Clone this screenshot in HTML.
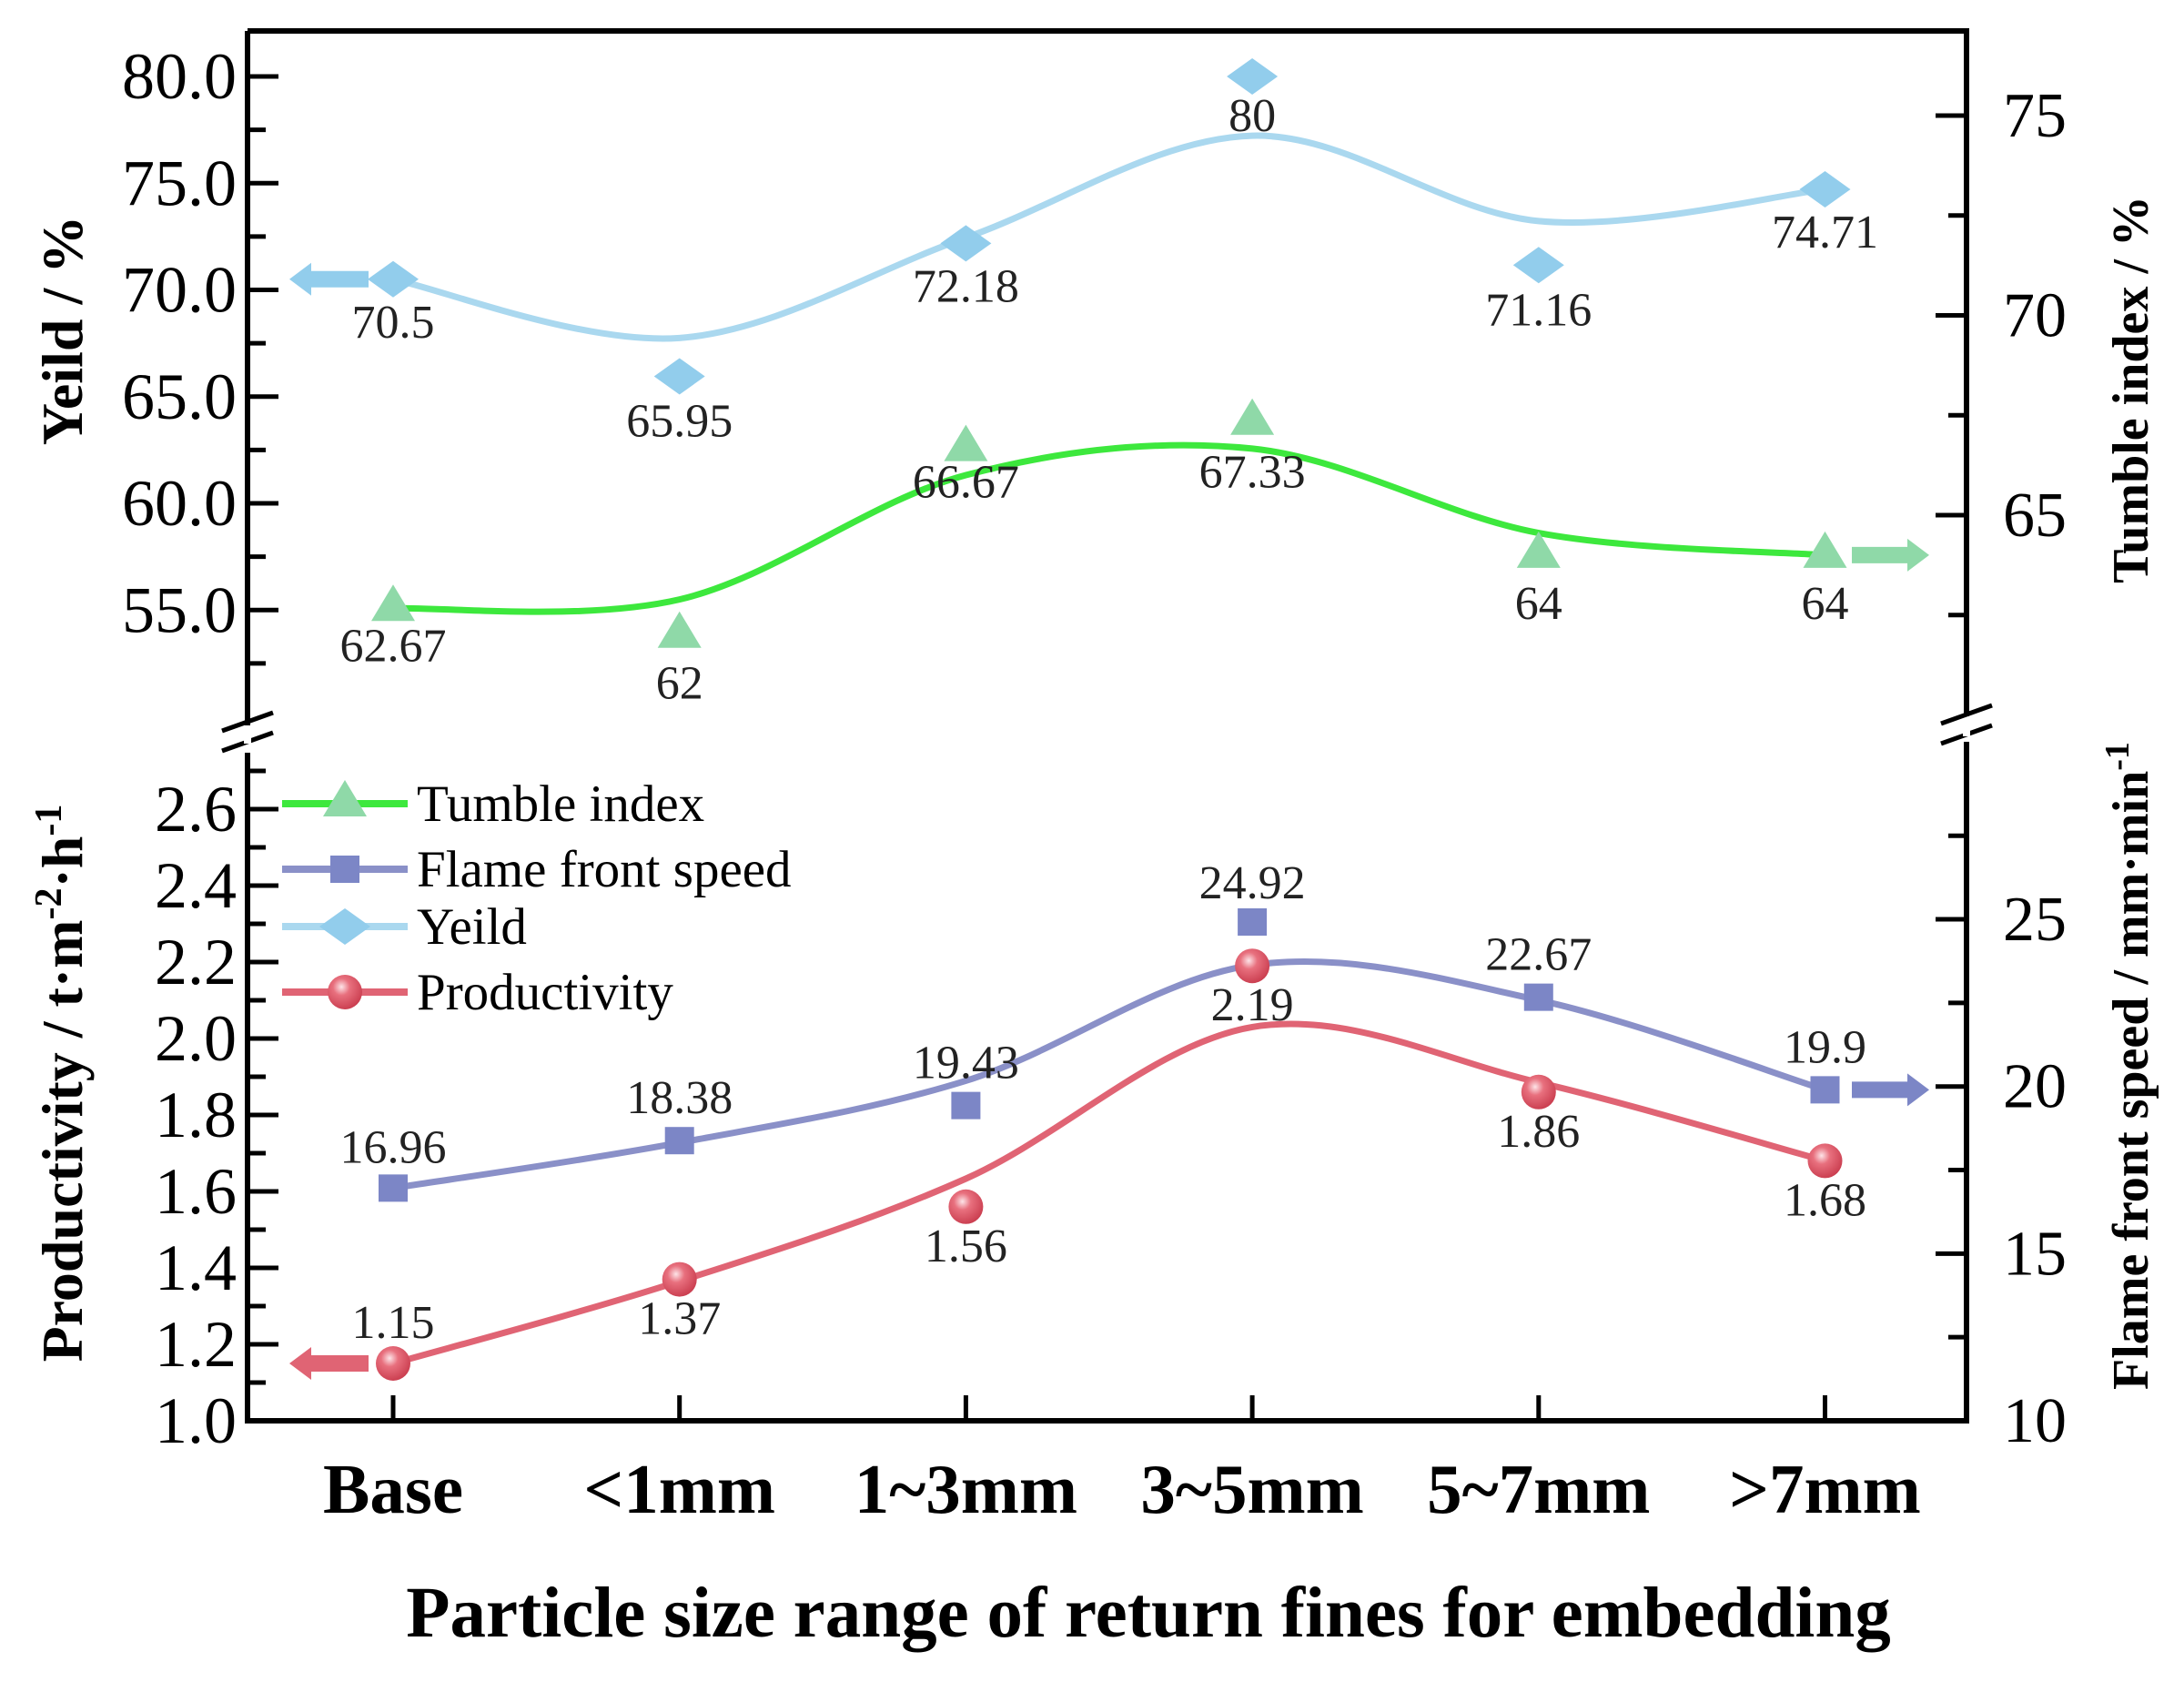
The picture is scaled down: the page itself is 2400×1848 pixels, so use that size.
<!DOCTYPE html>
<html><head><meta charset="utf-8"><style>
html,body{margin:0;padding:0;background:#fff;}
svg{display:block;font-family:"Liberation Serif",serif;}
</style></head><body>
<svg id="chart" width="2400" height="1848" viewBox="0 0 2400 1848" xmlns="http://www.w3.org/2000/svg">
<defs>
<radialGradient id="sph" cx="0.4" cy="0.35" r="0.7">
<stop offset="0" stop-color="#fde4e8"/><stop offset="0.35" stop-color="#e8707e"/><stop offset="1" stop-color="#c83a4c"/>
</radialGradient>
</defs>
</svg>
<script>
const categories=["Base","<1mm","1~3mm","3~5mm","5~7mm",">7mm"];
const yieldVals=[70.5,65.95,72.18,80,71.16,74.71];
const tumbleVals=[62.67,62,66.67,67.33,64,64];
const flameVals=[16.96,18.38,19.43,24.92,22.67,19.9];
const prodVals=[1.15,1.37,1.56,2.19,1.86,1.68];
const yieldTicks=["80.0","75.0","70.0","65.0","60.0","55.0"];
const tumbleTicks=["75","70","65"];
const prodTicks=["2.6","2.4","2.2","2.0","1.8","1.6","1.4","1.2","1.0"];
const flameTicks=["25","20","15","10"];

const svg=document.getElementById('chart');
const NS="http://www.w3.org/2000/svg";
function mk(tag,attrs,parent){const e=document.createElementNS(NS,tag);for(const k in attrs)e.setAttribute(k,attrs[k]);(parent||svg).appendChild(e);return e;}
const L=272,R=2161,T=34,B=1561,BRK=807;
const xS=i=>432+i*314.7;
const yY=v=>84+(80-v)*23.45;
const yT=v=>127+(75-v)*43.9;
const yP=v=>1561-(v-1.0)*420;
const yF=v=>1561-(v-10)*36.73;

let e;
e=mk('path',{d:`M${L},${T} H${R} V${BRK-20} M${R},${BRK+8} V${B} H${L} V${BRK+20} M${L},${BRK-8} V${T}`,fill:'none',stroke:'#000','stroke-width':6});


[[L,BRK+6],[R,BRK-2]].forEach(([x,y],k)=>{
 const g=mk('path',{d:`M${x-28},${y-10} L${x+28},${y-30} M${x-28},${y+12} L${x+28},${y-8}`,stroke:'#000','stroke-width':5,fill:'none'});
 
 
 mk('rect',{x:x-4,y:y-16,width:8,height:20,fill:'#fff'});
});
for(let v=80;v>=52.5;v-=2.5){const y=yY(v);const major=(v%5===0);mk('line',{x1:L,x2:L+(major?34:20),y1:y,y2:y,stroke:'#000','stroke-width':5});}
yieldTicks.forEach(t=>{const tx=mk('text',{x:L-12,y:yY(parseFloat(t))+24,'text-anchor':'end','font-size':72});tx.textContent=t;
 
 });
for(let k=0;k<=17;k++){const v=1.0+k*0.1;const y=yP(v);const major=(k%2===0);mk('line',{x1:L,x2:L+(major?34:20),y1:y,y2:y,stroke:'#000','stroke-width':5});}
prodTicks.forEach(t=>{const tx=mk('text',{x:L-12,y:yP(parseFloat(t))+24,'text-anchor':'end','font-size':72});tx.textContent=t;
 
 });
for(let v=75;v>=62.5;v-=2.5){const y=yT(v);const major=(v%5===0);mk('line',{x1:R,x2:R-(major?34:20),y1:y,y2:y,stroke:'#000','stroke-width':5});}
tumbleTicks.forEach(t=>{const tx=mk('text',{x:R+40,y:yT(parseFloat(t))+23,'font-size':70});tx.textContent=t;
 
 });
for(let v=10;v<=27.5;v+=2.5){const y=yF(v);const major=(v%5===0);mk('line',{x1:R,x2:R-(major?34:20),y1:y,y2:y,stroke:'#000','stroke-width':5});}
flameTicks.forEach(t=>{const tx=mk('text',{x:R+40,y:yF(parseFloat(t))+23,'font-size':70});tx.textContent=t;
 
 });
categories.forEach((c,i)=>{mk('line',{x1:xS(i),x2:xS(i),y1:B,y2:B-28,stroke:'#000','stroke-width':5});
 const tx=mk('text',{x:xS(i),y:1662,'text-anchor':'middle','font-size':77,'font-weight':'bold'});tx.textContent=c;
 
 });

function title(txt,x,y,rot,size,name){const t=mk('text',{x:x,y:y,'text-anchor':'middle','font-size':size,'font-weight':'bold',transform:rot?`rotate(${rot} ${x} ${y})`:''});t.innerHTML=txt;
 
 return t;}
title('Particle size range of return fines for embedding',1262,1798,0,79,'x-axis-title');
title('Yeild / %',90,363,-90,64,'yield-axis-title');
title('Productivity / t·m<tspan baseline-shift="super" font-size="42">-2</tspan>·h<tspan baseline-shift="super" font-size="42">-1</tspan>',90,1190,-90,64,'productivity-axis-title');
title('Tumble index / %',2360,428,-90,56,'tumble-axis-title');
title('Flame front speed / mm·min<tspan baseline-shift="super" font-size="38">-1</tspan>',2360,1171,-90,56,'flame-axis-title');

function smoothPts(vals,ys){const n=vals.length;const s=vals.map((v,i)=>{if(i===0||i===n-1)return v;return (vals[i-1]+4*v+vals[i+1])/6;});
 return s.map((v,i)=>[xS(i),ys(v)]);}
function curve(p){let d=`M${p[0][0]},${p[0][1]}`;for(let i=0;i<p.length-1;i++){const p0=p[i-1]||p[i],p1=p[i],p2=p[i+1],p3=p[i+2]||p[i+1];
 const c1=[p1[0]+(p2[0]-p0[0])/6,p1[1]+(p2[1]-p0[1])/6],c2=[p2[0]-(p3[0]-p1[0])/6,p2[1]-(p3[1]-p1[1])/6];
 d+=` C${c1[0]},${c1[1]} ${c2[0]},${c2[1]} ${p2[0]},${p2[1]}`;}return d;}
function series(vals,ys,color,mcol,shape,name,labOff){
 const g=mk('g',{});
 
 
 const ln=mk('path',{d:curve(smoothPts(vals,ys)),fill:'none',stroke:color,'stroke-width':7},g);
 
 
 vals.forEach((v,i)=>{const x=xS(i),y=ys(v);let m=marker(shape,x,y,mcol,g);
  
  
  const t=mk('text',{x:x,y:y+labOff[i],'text-anchor':'middle','font-size':52,fill:'#222'},g);t.textContent=String(v);
  
  });}
function marker(shape,x,y,c,g){
 if(shape==='tri')return mk('path',{d:`M${x},${y-26} L${x+24},${y+14} L${x-24},${y+14}Z`,fill:c},g);
 if(shape==='sq')return mk('rect',{x:x-16,y:y-15,width:32,height:30,fill:c},g);
 if(shape==='dia')return mk('path',{d:`M${x},${y-20} L${x+28},${y} L${x},${y+20} L${x-28},${y}Z`,fill:c},g);
 return mk('circle',{cx:x,cy:y,r:19,fill:'url(#sph)'},g);}
series(tumbleVals,yT,'#3de83d','#8fd9a8','tri','tumble',[58,70,54,72,70,70]);
series(yieldVals,yY,'#aad8ef','#92cdec','dia','yield',[64,66,64,60,66,64]);
series(flameVals,yF,'#8a90c8','#7c86c6','sq','flame',[-28,-30,-30,-26,-30,-30]);
series(prodVals,yP,'#e06474','#e06474','circ','productivity',[-28,60,60,60,60,60]);

function arrow(x1,x2,y,c,name){const dir=x2>x1?1:-1;const g=mk('path',{d:`M${x1},${y-9} H${x2-dir*24} V${y-18} L${x2},${y} L${x2-dir*24},${y+18} V${y+9} H${x1}Z`,fill:c});
 
 }
arrow(405,318,yY(yieldVals[0]),'#92cdec','yield-axis-arrow');
arrow(405,318,yP(prodVals[0]),'#e06474','productivity-axis-arrow');
arrow(2035,2120,yT(tumbleVals[5]),'#8fd9a8','tumble-axis-arrow');
arrow(2035,2120,yF(flameVals[5]),'#7c86c6','flame-axis-arrow');

const legItems=[["Tumble index",'#3de83d','#8fd9a8','tri',883],["Flame front speed",'#8a90c8','#7c86c6','sq',955],["Yeild",'#aad8ef','#92cdec','dia',1018],["Productivity",'#e06474','#e06474','circ',1090]];
const lg=mk('g',{});


legItems.forEach(it=>{const g=mk('g',{},lg);
 
 
 mk('line',{x1:310,x2:448,y1:it[4],y2:it[4],stroke:it[1],'stroke-width':8},g);
 marker(it[3],379,it[4],it[2],g);
 const t=mk('text',{x:458,y:it[4]+19,'font-size':57},g);t.textContent=it[0];});
</script>
</body></html>
